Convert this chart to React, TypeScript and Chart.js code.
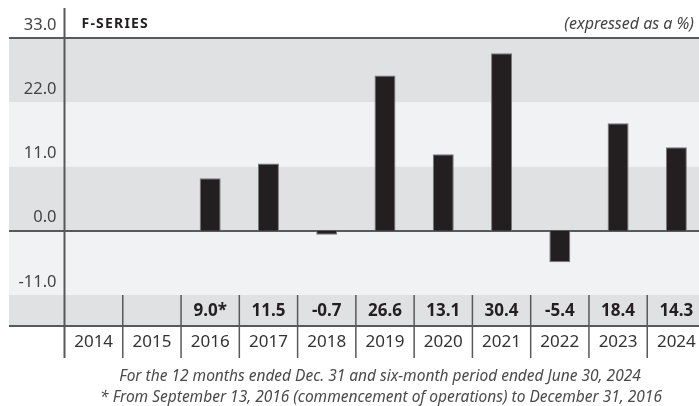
import React, { useEffect, useRef } from "react";
import { Chart, registerables } from "chart.js";

Chart.register(...registerables);

const years = ["2014", "2015", "2016", "2017", "2018", "2019", "2020", "2021", "2022", "2023", "2024"];
const returns: (number | null)[] = [null, null, 9.0, 11.5, -0.7, 26.6, 13.1, 30.4, -5.4, 18.4, 14.3];
const returnLabels = ["", "", "9.0*", "11.5", "-0.7", "26.6", "13.1", "30.4", "-5.4", "18.4", "14.3"];
const yTicks = [-11, 0, 11, 22, 33];
const title = "F-SERIES";
const unitNote = "(expressed as a %)";
const footnotes = [
  "For the 12 months ended Dec. 31 and six-month period ended June 30, 2024",
  "* From September 13, 2016 (commencement of operations) to December 31, 2016",
];

const FONT = "'Noto Sans', 'Open Sans', sans-serif";
const DARK_BAND = "#e0e1e3";
const LIGHT_BAND = "#f1f2f4";
const LINE = "#58595b";
const CANVAS_W = 710;
const CANVAS_H = 406;

const tablePlugin = {
  id: "tablePlugin",
  beforeDraw(chart: any) {
    const { ctx, chartArea, scales } = chart;
    const y = scales.y;
    ctx.save();
    for (let i = 0; i < yTicks.length - 1; i++) {
      const yTop = y.getPixelForValue(yTicks[i + 1]);
      const yBot = y.getPixelForValue(yTicks[i]);
      ctx.fillStyle = i % 2 === 0 ? LIGHT_BAND : DARK_BAND;
      ctx.fillRect(9, yTop, CANVAS_W, yBot - yTop);
    }
    const rowTop = y.getPixelForValue(yTicks[0]);
    ctx.fillStyle = DARK_BAND;
    ctx.fillRect(9, rowTop, CANVAS_W, 31);
    ctx.textBaseline = "middle";
    ctx.fillStyle = "#231f20";
    ctx.font = `bold 14px ${FONT}`;
    (ctx as any).letterSpacing = "1.2px";
    ctx.textAlign = "left";
    ctx.fillText(title, chartArea.left + 17, 24);
    (ctx as any).letterSpacing = "0px";
    ctx.font = `italic 16px ${FONT}`;
    ctx.fillStyle = "#444";
    ctx.textAlign = "right";
    ctx.fillText(unitNote, 694, 24);
    ctx.restore();
  },
  beforeDatasetsDraw(chart: any) {
    const { ctx, scales } = chart;
    const y = scales.y;
    ctx.save();
    ctx.strokeStyle = LINE;
    ctx.lineWidth = 2;
    const hline = (yy: number) => {
      ctx.beginPath();
      ctx.moveTo(9, yy);
      ctx.lineTo(CANVAS_W, yy);
      ctx.stroke();
    };
    hline(Math.round(y.getPixelForValue(yTicks[yTicks.length - 1])));
    hline(Math.round(y.getPixelForValue(0)));
    ctx.restore();
  },
  afterDraw(chart: any) {
    const { ctx, chartArea, scales } = chart;
    const y = scales.y;
    const x = scales.x;
    const rowTop = y.getPixelForValue(yTicks[0]);
    const rowMid = rowTop + 31;
    const rowBot = rowMid + 32;
    const colW = (chartArea.right - chartArea.left) / years.length;
    ctx.save();
    ctx.strokeStyle = LINE;
    ctx.lineWidth = 2;
    ctx.beginPath();
    ctx.moveTo(9, rowMid);
    ctx.lineTo(CANVAS_W, rowMid);
    ctx.stroke();
    ctx.beginPath();
    ctx.moveTo(chartArea.left, 8);
    ctx.lineTo(chartArea.left, rowBot);
    ctx.stroke();
    ctx.lineWidth = 1.5;
    for (let i = 1; i < years.length; i++) {
      const xx = x.getPixelForValue(i) - colW / 2;
      ctx.beginPath();
      ctx.moveTo(xx, rowTop);
      ctx.lineTo(xx, rowBot);
      ctx.stroke();
    }
    ctx.textAlign = "center";
    ctx.textBaseline = "middle";
    for (let i = 0; i < years.length; i++) {
      const cx = x.getPixelForValue(i);
      ctx.fillStyle = "#231f20";
      ctx.font = `bold 17px ${FONT}`;
      ctx.fillText(returnLabels[i], cx, rowTop + 16);
      ctx.fillStyle = "#333";
      ctx.font = `17px ${FONT}`;
      ctx.fillText(years[i], cx, rowMid + 16);
    }
    ctx.fillStyle = "#4a4a4a";
    ctx.font = `italic 15.5px ${FONT}`;
    ctx.fillText(footnotes[0], 380, 377);
    ctx.fillText(footnotes[1], 381, 398);
    ctx.restore();
  },
};

export default function App() {
  const ref = useRef<HTMLCanvasElement | null>(null);
  useEffect(() => {
    if (!ref.current) return;
    const chart = new Chart(ref.current, {
      type: "bar",
      data: {
        labels: years,
        datasets: [
          {
            data: returns as any,
            backgroundColor: "#231f20",
            borderColor: "#7a7879",
            borderWidth: 1,
            categoryPercentage: 1,
            barPercentage: 0.36,
          },
        ],
      },
      options: {
        animation: false,
        responsive: false,
        devicePixelRatio: 1,
        layout: { padding: { top: 38, bottom: 111, left: 0, right: 4.5 } },
        plugins: { legend: { display: false }, tooltip: { enabled: false } },
        scales: {
          x: { display: false },
          y: {
            min: -11,
            max: 33,
            afterFit: (scale: any) => {
              scale.width = 64.5;
            },
            afterBuildTicks: (scale: any) => {
              scale.ticks = yTicks.map((v) => ({ value: v }));
            },
            grid: { display: false, drawTicks: false },
            border: { display: false },
            ticks: {
              padding: 8,
              labelOffset: -13,
              color: "#444",
              font: { family: FONT, size: 16.5 },
              callback: (v: any) => Number(v).toFixed(1),
            },
          },
        },
      },
      plugins: [tablePlugin],
    });
    return () => chart.destroy();
  }, []);
  return (
    <div style={{ position: "absolute", left: 0, top: 0, width: 699, height: 406, overflow: "hidden", background: "#fff" }}>
      <canvas ref={ref} width={CANVAS_W} height={CANVAS_H} style={{ width: CANVAS_W, height: CANVAS_H, display: "block" }} />
    </div>
  );
}
